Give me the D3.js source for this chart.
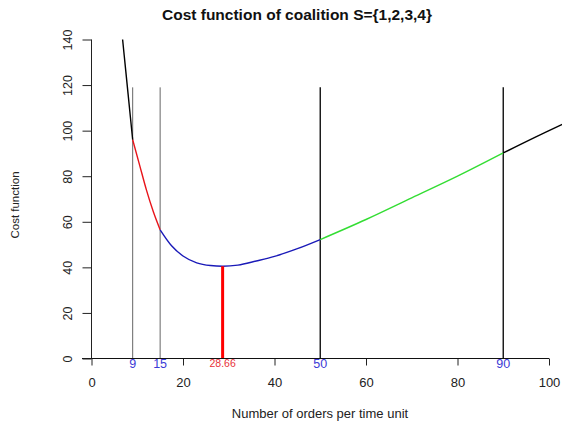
<!DOCTYPE html>
<html>
<head>
<meta charset="utf-8">
<script src="https://cdn.jsdelivr.net/npm/d3@7"></script>
<style>
  body { margin: 0; background: #fff; }
  text { font-family: "Liberation Sans", Arial, sans-serif; }
</style>
</head>
<body>
<div id="chart"></div>
<script>

// values
const orders = [6.8, 7.5, 8, 8.5, 9, 10.5, 12, 13.5, 15, 17.5, 20, 23, 26, 28.66, 32, 36, 40, 45, 50, 60, 70, 80, 90, 100, 103]
const cost   = [140, 126, 116, 106, 96, 85, 74, 64.5, 56.5, 49.5, 45, 42, 40.8, 40.5, 41, 42.8, 44.8, 48.2, 52.2, 61, 70.5, 80, 90.2, 100, 102.8]

const breakPoints = [9, 15, 50, 90]
const breakLabels = ['9', '15', '50', '90']
const optimum = 28.66
const optimumCost = 40.5
const vlineTop = 119

// colour per stretch of the curve
const segStart = [0, 9, 15, 50, 90]
const segEnd   = [9, 15, 50, 90, 200]
const segColor = ['#000000', '#e8141a', '#1a1ab8', '#33dd33', '#000000']

const xTicks = [0, 20, 40, 60, 80, 100]
const yTicks = [0, 20, 40, 60, 80, 100, 120, 140]

var width = 562
var height = 422

var svg = d3.select('#chart').append('svg')
    .attr('width', width)
    .attr('height', height)

var x = d3.scaleLinear().domain([0, 100]).range([91.5, 549])
var y = d3.scaleLinear().domain([0, 140]).range([358.5, 39.5])

var pts = orders.map((d, i) => ({ x: d, y: cost[i] }))

var line = d3.line()
    .x(d => x(d.x))
    .y(d => y(d.y))
    .curve(d3.curveMonotoneX)

// clip so the curve stops at the window edge
svg.append('clipPath').attr('id', 'plotclip')
    .append('rect').attr('x', 0).attr('y', 0).attr('width', 562).attr('height', 422)

// vertical guide lines
svg.selectAll('.guide')
    .data(breakPoints)
    .enter()
    .append('line')
    .attr('class', 'guide')
    .attr('x1', d => x(d)).attr('x2', d => x(d))
    .attr('y1', y(vlineTop)).attr('y2', y(0))
    .attr('stroke', (d, i) => i < 2 ? '#666' : '#111')
    .attr('stroke-width', (d, i) => i < 2 ? 1 : 1.4)

// curve, one path per coloured stretch
segStart.forEach(function (s, i) {
    var sub = pts.filter(p => p.x >= s && p.x <= segEnd[i])
    svg.append('path')
        .datum(sub)
        .attr('d', line)
        .attr('fill', 'none')
        .attr('stroke', segColor[i])
        .attr('stroke-width', 1.4)
        .attr('clip-path', 'url(#plotclip)')
})

// optimum bar
svg.append('line')
    .attr('x1', x(optimum)).attr('x2', x(optimum))
    .attr('y1', y(0)).attr('y2', y(optimumCost))
    .attr('stroke', '#ff0000')
    .attr('stroke-width', 3)

// x axis
var xAxis = d3.axisBottom(x)
    .tickValues(xTicks)
    .tickSize(7)
    .tickPadding(12)
    .tickFormat(d3.format('d'))

var gx = svg.append('g')
    .attr('transform', 'translate(0,' + y(0) + ')')
    .call(xAxis)
gx.select('.domain').remove()
gx.selectAll('line').attr('stroke', '#222')
gx.selectAll('text').attr('font-size', 13).attr('fill', '#222')

svg.append('line')
    .attr('x1', 82).attr('x2', x(100))
    .attr('y1', y(0)).attr('y2', y(0))
    .attr('stroke', '#111')

// y axis
var yAxis = d3.axisLeft(y)
    .tickValues(yTicks)
    .tickSize(9)
    .tickPadding(0)
    .tickFormat(d3.format('d'))

var gy = svg.append('g')
    .attr('transform', 'translate(' + x(0) + ',0)')
    .call(yAxis)
gy.select('.domain')
    .attr('d', 'M0,' + y(140) + 'V' + y(0))
    .attr('stroke', '#222')
gy.selectAll('line').attr('stroke', '#222')
gy.selectAll('text')
    .attr('font-size', 12.5)
    .attr('fill', '#222')
    .attr('text-anchor', 'middle')
    .attr('dy', null)
    .attr('x', null)
    .attr('transform', 'translate(-24,0) rotate(-90)')
    .attr('dominant-baseline', 'central')

// labels at the break points
svg.selectAll('.blabel')
    .data(breakPoints)
    .enter()
    .append('text')
    .attr('class', 'blabel')
    .attr('x', d => x(d))
    .attr('y', 368)
    .attr('text-anchor', 'middle')
    .attr('font-size', 12.5)
    .attr('fill', '#3b3bd6')
    .text((d, i) => breakLabels[i])

svg.append('text')
    .attr('x', x(optimum))
    .attr('y', 367)
    .attr('text-anchor', 'middle')
    .attr('font-size', 10.5)
    .attr('fill', '#e8323a')
    .text(optimum)

// titles
svg.append('text')
    .attr('x', 297)
    .attr('y', 20)
    .attr('text-anchor', 'middle')
    .attr('font-size', 15.5)
    .attr('font-weight', 'bold')
    .attr('fill', '#111')
    .text('Cost function of coalition S={1,2,3,4}')

svg.append('text')
    .attr('x', 320)
    .attr('y', 418)
    .attr('text-anchor', 'middle')
    .attr('font-size', 13)
    .attr('fill', '#222')
    .text('Number of orders per time unit')

svg.append('text')
    .attr('transform', 'translate(19,205) rotate(-90)')
    .attr('text-anchor', 'middle')
    .attr('font-size', 11.5)
    .attr('fill', '#222')
    .text('Cost function')

</script>
</body>
</html>
